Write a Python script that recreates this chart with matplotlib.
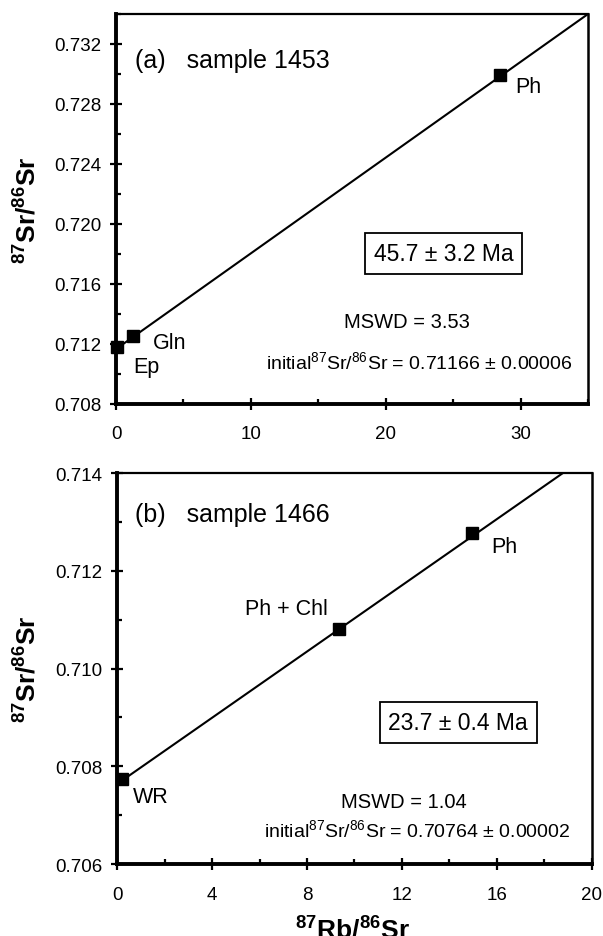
import matplotlib
matplotlib.use('Agg')
import matplotlib.pyplot as plt
from matplotlib.ticker import MultipleLocator, FormatStrFormatter

plt.rcParams['font.family'] = ['Liberation Sans', 'DejaVu Sans']
plt.rcParams['mathtext.fontset'] = 'custom'
plt.rcParams['mathtext.rm'] = 'Liberation Sans'
plt.rcParams['mathtext.it'] = 'Liberation Sans:italic'
plt.rcParams['mathtext.bf'] = 'Liberation Sans:bold'

# (a) sample 1453
a_names = ['Ep', 'Gln', 'Ph']
a_rb = [0.05, 1.28, 28.45]
a_sr = [0.71178, 0.71251, 0.72990]
a_line_x = [0, 35]
a_line_y = [0.71166, 0.73400]
a_age = '45.7 ± 3.2 Ma'
a_mswd = 'MSWD = 3.53'
a_init = 'initial$^{87}$Sr/$^{86}$Sr = 0.71166 ± 0.00006'

# (b) sample 1466
b_names = ['WR', 'Ph + Chl', 'Ph']
b_rb = [0.21, 9.33, 14.95]
b_sr = [0.70774, 0.71081, 0.71278]
b_line_x = [0, 20]
b_line_y = [0.70764, 0.71441]
b_age = '23.7 ± 0.4 Ma'
b_mswd = 'MSWD = 1.04'
b_init = 'initial$^{87}$Sr/$^{86}$Sr = 0.70764 ± 0.00002'

fig = plt.figure(figsize=(6.03, 9.37), dpi=100)
ax1 = fig.add_axes([0.1924, 0.5678, 0.7828, 0.4162])
ax2 = fig.add_axes([0.1945, 0.0768, 0.7867, 0.4173])


def style(ax, xmaj, xmin, ymaj, ymin):
    ax.spines['left'].set_linewidth(2.8)
    ax.spines['bottom'].set_linewidth(2.8)
    ax.spines['top'].set_linewidth(1.6)
    ax.spines['right'].set_linewidth(1.8)
    ax.xaxis.set_major_locator(MultipleLocator(xmaj))
    ax.xaxis.set_minor_locator(MultipleLocator(xmin))
    ax.yaxis.set_major_locator(MultipleLocator(ymaj))
    ax.yaxis.set_minor_locator(MultipleLocator(ymin))
    ax.yaxis.set_major_formatter(FormatStrFormatter('%.3f'))
    ax.tick_params(which='major', direction='inout', length=9, width=1.6,
                   labelsize=13.5)
    ax.tick_params(which='minor', direction='in', length=3.5, width=1.6)
    ax.tick_params(axis='y', which='major', pad=6)
    ax.tick_params(axis='x', which='major', pad=11)
    ax.tick_params(top=False, right=False, which='both')


box = dict(boxstyle='square,pad=0.38', fc='white', ec='black', lw=1.3)

# top panel
ax1.plot(a_line_x, a_line_y, color='black', lw=1.5)
ax1.plot(a_rb, a_sr, 's', color='black', ms=9, clip_on=False, zorder=3)
ax1.set_xlim(0, 35)
ax1.set_ylim(0.708, 0.734)
style(ax1, 10, 5, 0.004, 0.002)
ax1.text(1.4, 0.73047, '(a)   sample 1453', fontsize=18)
ax1.text(29.6, 0.7288, a_names[2], fontsize=15.5)
ax1.text(2.75, 0.71173, a_names[1], fontsize=15.5)
ax1.text(1.26, 0.71015, a_names[0], fontsize=15.5)
ax1.text(24.3, 0.71803, a_age, fontsize=16.5, ha='center', va='center', bbox=box)
ax1.text(21.6, 0.71347, a_mswd, fontsize=14.5, ha='center', va='center')
ax1.text(22.45, 0.71087, a_init, fontsize=14, ha='center', va='center')

# bottom panel
ax2.plot(b_line_x, b_line_y, color='black', lw=1.5)
ax2.plot(b_rb, b_sr, 's', color='black', ms=9, clip_on=False, zorder=3)
ax2.set_xlim(0, 20)
ax2.set_ylim(0.706, 0.714)
style(ax2, 4, 2, 0.002, 0.001)
ax2.text(0.75, 0.71302, '(b)   sample 1466', fontsize=18)
ax2.text(15.78, 0.71239, b_names[2], fontsize=15.5)
ax2.text(5.38, 0.71111, b_names[1], fontsize=15.5)
ax2.text(0.66, 0.70727, b_names[0], fontsize=15.5)
ax2.text(14.37, 0.7089, b_age, fontsize=16.5, ha='center', va='center', bbox=box)
ax2.text(12.1, 0.70727, b_mswd, fontsize=14.5, ha='center', va='center')
ax2.text(12.64, 0.70672, b_init, fontsize=14, ha='center', va='center')

ylab = r'$\mathbf{{}^{87}Sr/{}^{86}Sr}$'
fig.text(0.045, 0.776, ylab, fontsize=19, rotation=90, ha='center', va='center')
fig.text(0.045, 0.2855, ylab, fontsize=19, rotation=90, ha='center', va='center')
fig.text(0.584, 0.021, r'$\mathbf{{}^{87}Rb/{}^{86}Sr}$', fontsize=19,
         ha='center', va='top')

fig.savefig('out.png', dpi=100)
